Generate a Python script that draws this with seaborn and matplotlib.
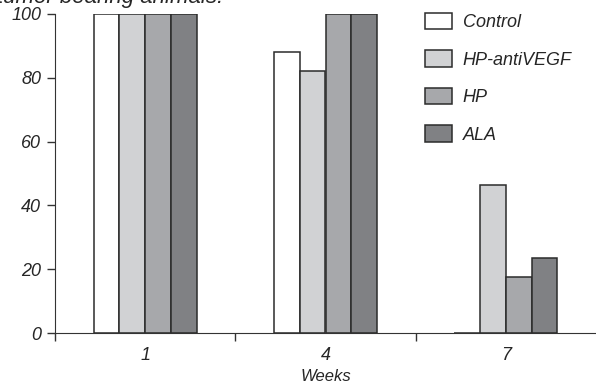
import matplotlib
matplotlib.use("Agg")
import matplotlib.pyplot as plt
import seaborn as sns
import pandas as pd

weeks = ["1", "4", "7"]
groups = ["Control", "HP-antiVEGF", "HP", "ALA"]
control = [100, 88, 0]
hp_antivegf = [100, 82, 46.5]
hp = [100, 100, 17.6]
ala = [100, 100, 23.5]
colors = ["#ffffff", "#d1d2d4", "#a7a8ab", "#808184"]
yticks = [0, 20, 40, 60, 80, 100]

rows = []
for name, vals in zip(groups, [control, hp_antivegf, hp, ala]):
    for w, v in zip(weeks, vals):
        rows.append({"Weeks": w, "Group": name, "Value": v})
df = pd.DataFrame(rows)

sns.set_style("ticks")
plt.rcParams["font.family"] = ["Liberation Sans", "DejaVu Sans"]
plt.rcParams["font.style"] = "italic"

fig = plt.figure(figsize=(5.96, 3.84), dpi=100)
ax = fig.add_axes([55 / 596, 1 - 333 / 384, 541 / 596, 319 / 384])

sns.barplot(data=df, x="Weeks", y="Value", hue="Group", hue_order=groups,
            palette=colors, width=0.57, edgecolor="#2b2b2b", linewidth=1.1,
            saturation=1, ax=ax, legend=True)

ax.set_xlim(-0.5, 2.5)
ax.set_ylim(0, 100)
ax.set_yticks(yticks)
ax.set_yticklabels([str(t) for t in yticks], fontsize=13)

# tick marks between groups, labels at group centres
ax.set_xticks([-0.5, 0.5, 1.5])
ax.set_xticklabels([])
ax.set_xticks([0, 1, 2], minor=True)
ax.set_xticklabels(weeks, minor=True, fontsize=13)
ax.tick_params(axis="x", which="minor", length=0, pad=10)
ax.tick_params(axis="x", which="major", length=6, width=1, color="#333333")
ax.tick_params(axis="y", length=6, width=1, color="#333333", pad=4)
ax.set_xlabel("Weeks", fontsize=12, labelpad=4)
ax.set_ylabel("")

sns.despine(ax=ax)
ax.spines["left"].set_color("#333333")
ax.spines["bottom"].set_color("#333333")
ax.spines["bottom"].set_bounds(-0.5, 2.5)

leg = ax.legend(loc="upper left", bbox_to_anchor=(421 / 596, 1 - 9 / 384), bbox_transform=fig.transFigure,
                frameon=False, fontsize=13, handlelength=1.5, handleheight=1.05,
                handletextpad=0.6, labelspacing=1.05, borderaxespad=0.0, borderpad=0.2)
for t in leg.get_texts():
    t.set_fontstyle("italic")

fig.text(-0.005, 1 - 3 / 384, "tumor bearing animals.", fontsize=16, va="baseline", ha="left")

fig.savefig("out.png", dpi=100)
